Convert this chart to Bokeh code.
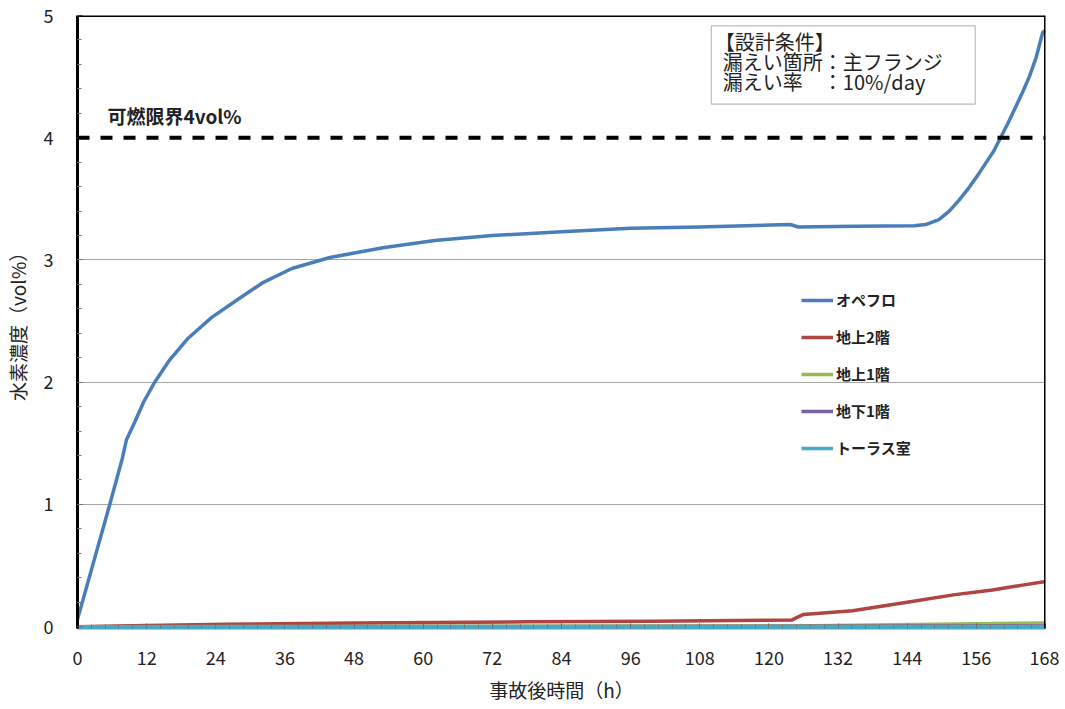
from bokeh.plotting import figure
from bokeh.models import (Range1d, FixedTicker, Legend, LegendItem, Span, BoxAnnotation,
                          Label)
from bokeh.embed import file_html
from bokeh.resources import INLINE

# ---- data ----
series_names = ["オペフロ", "地上2階", "地上1階", "地下1階", "トーラス室"]

opeflo_h = [0, 5.6, 7.8, 8.5, 10, 11.5, 13.4, 15.8, 19.2, 23.3, 27.3, 32, 37.2, 43.8,
            53, 62, 72, 84, 96, 108, 116, 123.7, 125.1, 135, 145.2, 147.2, 149.5,
            151.3, 153, 154.7, 156.2, 157.6, 159, 160.2, 161.5, 162.8, 164, 165.2,
            166.4, 167.5, 168]
opeflo_v = [0.06, 1.0, 1.38, 1.53, 1.68, 1.84, 2.0, 2.17, 2.36, 2.53, 2.66, 2.81, 2.93,
            3.02, 3.10, 3.16, 3.20, 3.23, 3.26, 3.27, 3.28, 3.29, 3.27, 3.275, 3.28,
            3.29, 3.33, 3.40, 3.49, 3.59, 3.69, 3.79, 3.89, 4.0, 4.12, 4.25, 4.37,
            4.50, 4.66, 4.86, 4.88]

f2_h = [0, 12, 26, 48, 78, 100, 124, 126, 134.5, 144, 152, 158.8, 164, 168]
f2_v = [0.0, 0.01, 0.02, 0.03, 0.04, 0.045, 0.055, 0.10, 0.13, 0.20, 0.26, 0.30, 0.34, 0.37]

f1_h = [0, 124, 168]
f1_v = [0.0, 0.005, 0.03]

b1_h = [0, 168]
b1_v = [0.0, 0.005]

torus_h = [0, 168]
torus_v = [0.0, 0.0]

limit_value = 4.0
limit_label = "可燃限界4vol%"

x_ticks = list(range(0, 169, 12))
y_ticks = [0, 1, 2, 3, 4, 5]

note_lines = ["【設計条件】", "漏えい箇所：主フランジ", "漏えい率　：10%/day"]

colors = ["#4A7EBB", "#B04440", "#98B954", "#7D60A0", "#46AAC5"]

JP = "Noto Sans CJK JP"

p = figure(frame_width=968, frame_height=613, output_backend="svg", toolbar_location=None,
           x_range=Range1d(0, 168), y_range=Range1d(-0.015, 5),
           min_border_left=72, min_border_right=14, min_border_top=15, min_border_bottom=68)
p.outline_line_color = None
p.background_fill_color = "white"
p.border_fill_color = "white"

# grid
p.xgrid.grid_line_color = None
p.ygrid.ticker = FixedTicker(ticks=[1, 2, 3])
p.ygrid.grid_line_color = "#a6a6a6"
p.ygrid.grid_line_width = 1.2

# axes
p.xaxis.ticker = FixedTicker(ticks=x_ticks, minor_ticks=[i * 2.4 for i in range(71)])
p.yaxis.ticker = FixedTicker(ticks=y_ticks, minor_ticks=[i * 0.2 for i in range(26)])
for ax in (p.xaxis[0], p.yaxis[0]):
    ax.major_tick_in = 5
    ax.major_tick_out = 0
    ax.minor_tick_in = 4
    ax.minor_tick_out = 0
    ax.major_tick_line_color = "#555555"
    ax.minor_tick_line_color = "#777777"
    ax.major_label_text_font = JP
    ax.major_label_text_font_size = "18px"
    ax.major_label_text_color = "#222222"
    ax.axis_label_text_font = JP
    ax.axis_label_text_font_size = "19px"
    ax.axis_label_text_font_style = "normal"
    ax.axis_label_text_color = "#222222"

p.yaxis.axis_line_color = "black"
p.yaxis.axis_line_width = 3
p.yaxis.major_label_standoff = 24
p.yaxis.axis_label = "水素濃度（vol%）"
p.yaxis.axis_label_standoff = 10

p.xaxis.axis_line_color = "#46AAC5"
p.xaxis.axis_line_width = 2
p.xaxis.major_label_standoff = 22
p.xaxis.axis_label = "事故後時間（h）"
p.xaxis.axis_label_standoff = 8

# frame top / right
p.add_layout(Span(location=5, dimension="width", line_color="black", line_width=3))
p.add_layout(Span(location=168, dimension="height", line_color="black", line_width=3))

# flammability limit
p.add_layout(Span(location=limit_value, dimension="width", line_color="black",
                  line_width=4, line_dash="12 11"))
p.add_layout(Label(x=5.2, y=4.18, text=limit_label, text_font=JP, text_font_size="19px",
                   text_font_style="bold", text_baseline="middle", text_color="#222222"))

# series
renderers = []
for hs, vs, c in [(opeflo_h, opeflo_v, colors[0]), (f2_h, f2_v, colors[1]),
                  (f1_h, f1_v, colors[2]), (b1_h, b1_v, colors[3]),
                  (torus_h, torus_v, colors[4])]:
    renderers.append(p.line(hs, vs, line_color=c, line_width=3.5, line_join="round"))

legend = Legend(items=[LegendItem(label=n, renderers=[r]) for n, r in zip(series_names, renderers)],
                location=(724, 170), border_line_color=None, background_fill_alpha=0,
                padding=0, margin=0, spacing=16, label_height=20, glyph_height=20,
                glyph_width=32, label_standoff=3, label_text_font=JP,
                label_text_font_size="15px", label_text_font_style="bold",
                label_text_color="#222222")
p.add_layout(legend)

# design-condition box
p.add_layout(BoxAnnotation(left=110.0, right=155.8, bottom=4.275, top=4.915,
                           fill_color="white", fill_alpha=1, line_color="#222222",
                           line_width=1.2))
note_y = [4.79, 4.625, 4.46]
note_x = [110.6, 112.0, 112.0]
for t, xx, yy in zip(note_lines, note_x, note_y):
    p.add_layout(Label(x=xx, y=yy, text=t, text_font=JP, text_font_size="20px",
                       text_baseline="middle", text_color="#222222"))

open("out.html", "w").write(file_html(p, INLINE))
